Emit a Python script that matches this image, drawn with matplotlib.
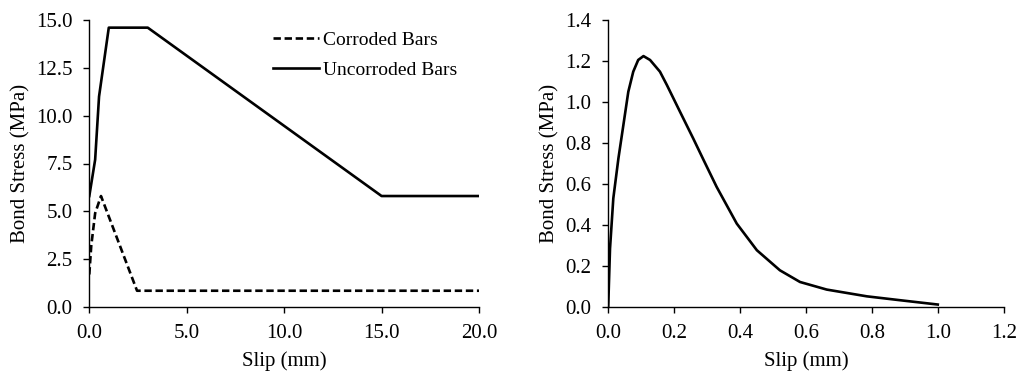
import matplotlib
matplotlib.use("Agg")
import matplotlib.pyplot as plt

plt.rcParams['font.family'] = ['Liberation Serif', 'DejaVu Serif']
plt.rcParams['font.size'] = 15

# Left panel data
corroded_slip = [0.0, 0.1, 0.3, 0.6, 2.45, 20.0]
corroded_stress = [1.7, 3.2, 4.9, 5.8, 0.85, 0.85]
uncorroded_slip = [0.0, 0.3, 0.5, 1.0, 3.0, 15.0, 20.0]
uncorroded_stress = [5.8, 7.7, 11.0, 14.6, 14.6, 5.8, 5.8]
left_xticks = [0.0, 5.0, 10.0, 15.0, 20.0]
left_yticks = [0.0, 2.5, 5.0, 7.5, 10.0, 12.5, 15.0]

# Right panel data
right_slip = [0.0, 0.0055, 0.0155, 0.031, 0.046, 0.061, 0.076, 0.091, 0.107,
              0.127, 0.157, 0.178, 0.218, 0.258, 0.29, 0.329, 0.39, 0.451,
              0.521, 0.582, 0.663, 0.785, 0.886, 1.0]
right_stress = [0.0, 0.285, 0.53, 0.725, 0.887, 1.05, 1.148, 1.205, 1.224,
                1.205, 1.148, 1.083, 0.952, 0.822, 0.715, 0.586, 0.407, 0.277,
                0.179, 0.122, 0.085, 0.052, 0.033, 0.012]
right_xticks = [0.0, 0.2, 0.4, 0.6, 0.8, 1.0, 1.2]
right_yticks = [0.0, 0.2, 0.4, 0.6, 0.8, 1.0, 1.2, 1.4]

W, H = 1019, 372
fig = plt.figure(figsize=(W / 100, H / 100), dpi=100)
ax1 = fig.add_axes([89.3 / W, 1 - 307 / H, (479 - 89.3) / W, (307 - 20) / H])
ax2 = fig.add_axes([608.2 / W, 1 - 307 / H, (1003.7 - 608.2) / W, (307 - 20) / H])

LW = 1.9
ax1.plot(corroded_slip, corroded_stress, color='black', lw=LW, ls=(0, (2.8, 1.4)),
         label='Corroded Bars')
ax1.plot(uncorroded_slip, uncorroded_stress, color='black', lw=LW, label='Uncorroded Bars')
ax1.set_xlim(0, 20)
ax1.set_ylim(0, 15)
ax1.set_xticks(left_xticks)
ax1.set_xticklabels([f"{v:.1f}" for v in left_xticks])
ax1.set_yticks(left_yticks)
ax1.set_yticklabels([f"{v:.1f}" for v in left_yticks])
ax1.set_xlabel('Slip (mm)', labelpad=6)
ax1.set_ylabel('Bond Stress (MPa)', labelpad=4)
leg = ax1.legend(loc='center left', bbox_to_anchor=(0.471, 0.878), frameon=False,
                 fontsize=14, handlelength=2.37, handletextpad=0.2, labelspacing=0.65,
                 borderpad=0, borderaxespad=0)

ax2.plot(right_slip, right_stress, color='black', lw=LW, solid_joinstyle='round')
ax2.set_xlim(0, 1.2)
ax2.set_ylim(0, 1.4)
ax2.set_xticks(right_xticks)
ax2.set_xticklabels([f"{v:.1f}" for v in right_xticks])
ax2.set_yticks(right_yticks)
ax2.set_yticklabels([f"{v:.1f}" for v in right_yticks])
ax2.set_xlabel('Slip (mm)', labelpad=6)
ax2.set_ylabel('Bond Stress (MPa)', labelpad=4)

for ax in (ax1, ax2):
    ax.spines['top'].set_visible(False)
    ax.spines['right'].set_visible(False)
    ax.tick_params(direction='out', length=4.5, width=1)
    ax.tick_params(axis='x', pad=8)
    ax.tick_params(axis='y', pad=7.5)
    for s in ('left', 'bottom'):
        ax.spines[s].set_linewidth(1)

fig.savefig('out.png', dpi=100)
